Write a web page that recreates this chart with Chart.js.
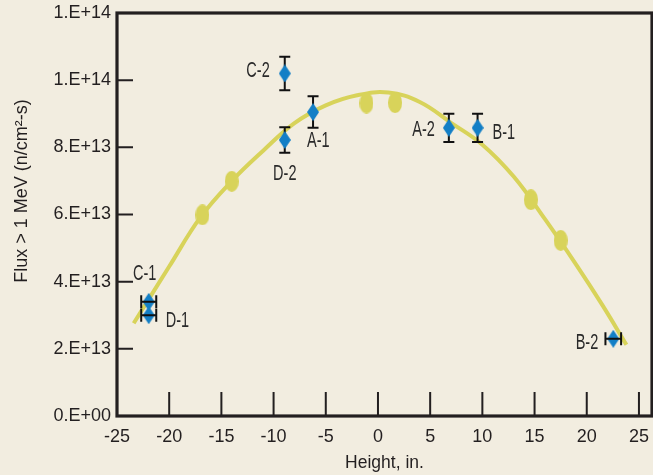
<!DOCTYPE html>
<html>
<head>
<meta charset="utf-8">
<script src="https://cdn.jsdelivr.net/npm/chart.js@4.4.1/dist/chart.umd.min.js"></script>
<style>
  html, body { margin: 0; padding: 0; background: #f2ede0; }
</style>
</head>
<body>
<canvas id="grafico" width="653" height="475"></canvas>
<script>
// ticks
const xTicks = [-25, -20, -15, -10, -5, 0, 5, 10, 15, 20, 25];
const yTickValues = [0, 2e13, 4e13, 6e13, 8e13, 1e14, 1.2e14];
const yTickLabels = ["0.E+00", "2.E+13", "4.E+13", "6.E+13", "8.E+13", "1.E+14", "1.E+14"];

// yellow fitted curve
const curveX = [-23.4, -20, -17, -14, -11, -8, -5, -2, 1, 4, 7, 10, 13, 16, 19, 21.5, 23.8];
const curveY = [2.76e13, 4.45e13, 5.92e13, 7.0e13, 7.9e13, 8.72e13, 9.25e13, 9.55e13, 9.63e13, 9.35e13, 8.73e13, 8.08e13, 7.13e13, 5.86e13, 4.5e13, 3.3e13, 2.12e13];

// yellow ellipses
const calcX = [-16.82, -14.01, -1.1, 1.64, 14.65, 17.5];
const calcY = [5.99e13, 6.99e13, 9.32e13, 9.33e13, 6.44e13, 5.23e13];

// blue measured points with error bars
const measNames = ["C-2", "D-2", "A-1", "A-2", "B-1", "C-1", "D-1", "B-2"];
const measX = [-8.93, -8.93, -6.22, 6.79, 9.54, -21.96, -21.96, 22.54];
const measY = [10.2e13, 8.22e13, 9.05e13, 8.58e13, 8.58e13, 3.4e13, 3.0e13, 2.3e13];
const measErrY = [0.5e13, 0.38e13, 0.47e13, 0.42e13, 0.42e13, 0, 0, 0];
const measErrX = [0, 0, 0, 0, 0, 0.72, 0.72, 0.75];

// where each label sits relative to its point
const labelPlace = [
  { dx: -15, dy: -3, align: "right" },
  { dx: 0, dy: 34, align: "center" },
  { dx: -6, dy: 29, align: "left" },
  { dx: -14, dy: 2, align: "right" },
  { dx: 15, dy: 5, align: "left" },
  { dx: -4, dy: -28, align: "center" },
  { dx: 17, dy: 6, align: "left" },
  { dx: -15, dy: 4, align: "right" }
];

const ink = "#231f20";
const yellow = "#d8d35a";
const blue = "#137fc6";
const sans = "'Liberation Sans', Arial, sans-serif";

// custom marker shapes
function makeDiamond(w, h, color) {
  const c = document.createElement("canvas");
  c.width = w; c.height = h;
  const g = c.getContext("2d");
  g.fillStyle = color;
  g.beginPath();
  g.moveTo(w / 2, 0); g.lineTo(w, h / 2); g.lineTo(w / 2, h); g.lineTo(0, h / 2);
  g.closePath(); g.fill();
  return c;
}
function makeEllipse(w, h, color) {
  const c = document.createElement("canvas");
  c.width = w; c.height = h;
  const g = c.getContext("2d");
  g.fillStyle = color;
  g.beginPath();
  g.ellipse(w / 2, h / 2, w / 2, h / 2, 0, 0, Math.PI * 2);
  g.fill();
  return c;
}
const diamondImg = makeDiamond(12, 18, blue);
const ellipseImg = makeEllipse(14, 21, yellow);

const ctx = document.getElementById("grafico").getContext("2d");

const background = {
  id: "background",
  beforeDraw(chart) {
    const c = chart.ctx;
    c.save();
    c.fillStyle = "#f2ede0";
    c.fillRect(0, 0, chart.width, chart.height);
    c.restore();
  }
};

// frame and inward tick marks
const frame = {
  id: "frame",
  afterDraw(chart) {
    const { ctx: c, chartArea: a, scales: { x, y } } = chart;
    c.save();
    c.strokeStyle = ink;
    c.lineWidth = 2;
    c.beginPath();
    xTicks.slice(1).forEach(v => {
      const px = x.getPixelForValue(v);
      c.moveTo(px, a.bottom); c.lineTo(px, a.bottom - 24);
    });
    yTickValues.slice(1, -1).forEach(v => {
      const py = y.getPixelForValue(v);
      c.moveTo(a.left, py); c.lineTo(a.left + 16, py);
    });
    c.stroke();
    c.lineWidth = 3.2;
    c.strokeRect(a.left, a.top, a.right - a.left, a.bottom - a.top);
    c.restore();
  }
};

function drawBars(chart, vertical) {
  const { ctx: c, scales: { x, y } } = chart;
  c.save();
  c.strokeStyle = "#111";
  c.lineWidth = 2;
  c.beginPath();
  measX.forEach((vx, i) => {
    const px = x.getPixelForValue(vx);
    const py = y.getPixelForValue(measY[i]);
    if (vertical && measErrY[i]) {
      const t = y.getPixelForValue(measY[i] + measErrY[i]);
      const b = y.getPixelForValue(measY[i] - measErrY[i]);
      c.moveTo(px, t); c.lineTo(px, b);
      c.moveTo(px - 5.5, t); c.lineTo(px + 5.5, t);
      c.moveTo(px - 5.5, b); c.lineTo(px + 5.5, b);
    }
    if (!vertical && measErrX[i]) {
      const l = x.getPixelForValue(vx - measErrX[i]);
      const r = x.getPixelForValue(vx + measErrX[i]);
      c.moveTo(l, py); c.lineTo(r, py);
      c.moveTo(l, py - 6.5); c.lineTo(l, py + 6.5);
      c.moveTo(r, py - 6.5); c.lineTo(r, py + 6.5);
    }
  });
  c.stroke();
  c.restore();
}

const errorBars = {
  id: "errorBars",
  beforeDatasetDraw(chart, args) {
    if (args.index === 0) drawBars(chart, true);
  },
  afterDatasetDraw(chart, args) {
    if (args.index === 0) drawBars(chart, false);
  }
};

// point names in a narrow face + axis titles
const texts = {
  id: "texts",
  afterDraw(chart) {
    const { ctx: c, chartArea: a, scales: { x, y } } = chart;
    c.save();
    c.fillStyle = "#2a2a2a";
    c.font = "22px " + sans;
    c.textBaseline = "middle";
    measNames.forEach((name, i) => {
      const p = labelPlace[i];
      const px = x.getPixelForValue(measX[i]) + p.dx;
      const py = y.getPixelForValue(measY[i]) + p.dy;
      c.save();
      c.translate(px, py);
      c.scale(0.66, 1);
      c.textAlign = p.align;
      c.fillText(name, 0, 0);
      c.restore();
    });

    c.fillStyle = ink;
    c.textAlign = "center";
    c.font = "17.5px " + sans;
    c.fillText("Height, in.", (a.left + a.right) / 2, 463);

    c.font = "18px " + sans;
    c.translate(22, 191);
    c.rotate(-Math.PI / 2);
    c.fillText("Flux > 1 MeV (n/cm²-s)", 0, 0);
    c.restore();
  }
};

const chart = new Chart(ctx, {
  type: "scatter",
  data: {
    datasets: [
      {
        label: "Measured",
        data: measX.map((v, i) => ({ x: v, y: measY[i] })),
        pointStyle: diamondImg,
        pointRadius: 9,
        pointHoverRadius: 9
      },
      {
        label: "Calculated points",
        data: calcX.map((v, i) => ({ x: v, y: calcY[i] })),
        pointStyle: ellipseImg,
        pointRadius: 10
      },
      {
        label: "Calculated",
        data: curveX.map((v, i) => ({ x: v, y: curveY[i] })),
        showLine: true,
        borderColor: yellow,
        borderWidth: 4,
        pointRadius: 0,
        tension: 0.4
      }
    ]
  },
  options: {
    responsive: false,
    animation: false,
    devicePixelRatio: 1,
    layout: { autoPadding: false, padding: { top: 13, right: 1, left: 0, bottom: 0 } },
    plugins: { legend: { display: false }, tooltip: { enabled: false } },
    scales: {
      x: {
        type: "linear",
        min: -25,
        max: 26.25,
        afterBuildTicks: s => { s.ticks = xTicks.map(v => ({ value: v })); },
        afterFit: s => { s.height = 59; s.paddingLeft = 0; s.paddingRight = 0; },
        grid: { display: false, drawTicks: false },
        border: { display: false },
        ticks: {
          autoSkip: false,
          maxRotation: 0,
          padding: 10,
          color: ink,
          font: { family: sans, size: 18 }
        }
      },
      y: {
        type: "linear",
        min: 0,
        max: 1.2e14,
        afterBuildTicks: s => { s.ticks = yTickValues.map(v => ({ value: v })); },
        afterFit: s => { s.width = 117; s.paddingTop = 0; s.paddingBottom = 0; },
        grid: { display: false, drawTicks: false },
        border: { display: false },
        ticks: {
          autoSkip: false,
          padding: 6,
          color: ink,
          font: { family: sans, size: 18 },
          callback: (v, i) => yTickLabels[i]
        }
      }
    }
  },
  plugins: [background, errorBars, frame, texts]
});
</script>
</body>
</html>
